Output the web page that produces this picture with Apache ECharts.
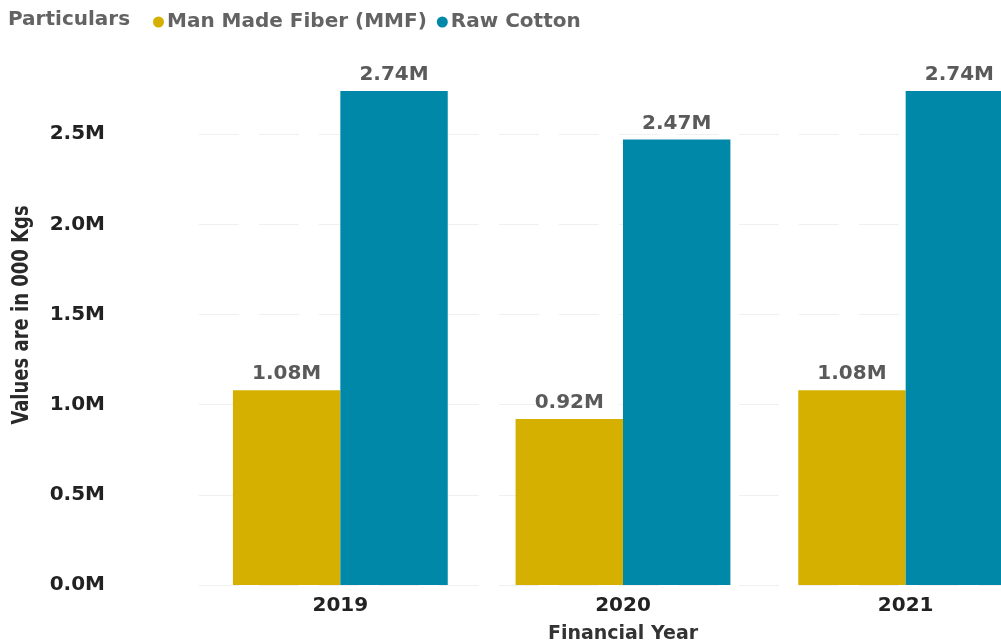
<!DOCTYPE html>
<html>
<head>
<meta charset="utf-8">
<script src="https://cdn.jsdelivr.net/npm/echarts@6/dist/echarts.min.js"></script>
<style>
  html, body { margin: 0; padding: 0; background: #ffffff; }
  #chart { width: 1001px; height: 642px; }
</style>
</head>
<body>
<div id="chart"></div>
<script>
// Imports of fibre by financial year, values in 000 Kgs (millions)
const years = ['2019', '2020', '2021'];
const mmf = [1.08, 0.92, 1.08];
const rawCotton = [2.74, 2.47, 2.74];
const yTicks = [0, 0.5, 1.0, 1.5, 2.0, 2.5];

const seriesNames = ['Man Made Fiber (MMF)', 'Raw Cotton'];
const colors = ['#D6B000', '#0088A8'];

const FONT = "'DejaVu Sans', sans-serif";
const chart = echarts.init(document.getElementById('chart'));

const fmtM = v => v.toFixed(2) + 'M';

const valueLabel = {
  show: true,
  position: 'top',
  distance: 6,
  formatter: p => fmtM(p.value),
  fontFamily: FONT,
  fontWeight: 700,
  fontSize: 20,
  color: '#5a5a5a'
};

chart.setOption({
  animation: false,
  color: colors,
  textStyle: { fontFamily: FONT },
  graphic: [
    {
      type: 'text',
      left: 8,
      top: 10,
      style: {
        text: 'Particulars',
        fontFamily: FONT,
        fontWeight: 700,
        fontSize: 20,
        fill: '#636363'
      }
    },
    {
      // rotated, slightly tall axis title
      type: 'text',
      x: 22,
      y: 315,
      rotation: Math.PI / 2,
      scaleY: 1.15,
      style: {
        text: 'Values are in 000 Kgs',
        fontFamily: "'DejaVu Sans Condensed', 'DejaVu Sans', sans-serif",
        fontWeight: 700,
        fontSize: 20,
        fill: '#2a2a2a',
        align: 'center',
        verticalAlign: 'middle'
      }
    }
  ],
  legend: {
    left: 148,
    top: 7,
    icon: 'circle',
    itemWidth: 11,
    itemHeight: 11,
    itemGap: 10,
    data: seriesNames,
    textStyle: {
      fontFamily: FONT,
      fontWeight: 700,
      fontSize: 20,
      color: '#636363',
      padding: [0, 0, 0, -2]
    }
  },
  grid: {
    left: 199,
    top: 44,
    width: 848,
    height: 541,
    containLabel: false,
    outerBoundsMode: 'none'
  },
  xAxis: {
    type: 'category',
    data: years,
    axisLine: { show: false },
    axisTick: { show: false },
    axisLabel: {
      margin: 11,
      fontFamily: FONT,
      fontWeight: 700,
      fontSize: 20,
      color: '#222222'
    },
    name: 'Financial Year',
    nameLocation: 'middle',
    nameGap: 40,
    nameTextStyle: {
      fontFamily: FONT,
      fontWeight: 700,
      fontSize: 19,
      color: '#333333'
    }
  },
  yAxis: {
    type: 'value',
    min: 0,
    max: 3,
    interval: 0.5,
    axisLine: { show: false },
    axisTick: { show: false },
    splitLine: {
      show: true,
      showMaxLine: false,
      lineStyle: { color: '#f0f0f0', type: [40, 20], width: 1 }
    },
    axisLabel: {
      margin: 94,
      fontFamily: FONT,
      fontWeight: 700,
      fontSize: 20,
      color: '#222222',
      formatter: v => (yTicks.indexOf(v) >= 0 ? v.toFixed(1) + 'M' : '')
    }
  },
  series: [
    {
      name: seriesNames[0],
      type: 'bar',
      data: mmf,
      barGap: '0%',
      barCategoryGap: '24%',
      label: valueLabel
    },
    {
      name: seriesNames[1],
      type: 'bar',
      data: rawCotton,
      barGap: '0%',
      barCategoryGap: '24%',
      label: valueLabel
    }
  ]
});
</script>
</body>
</html>
